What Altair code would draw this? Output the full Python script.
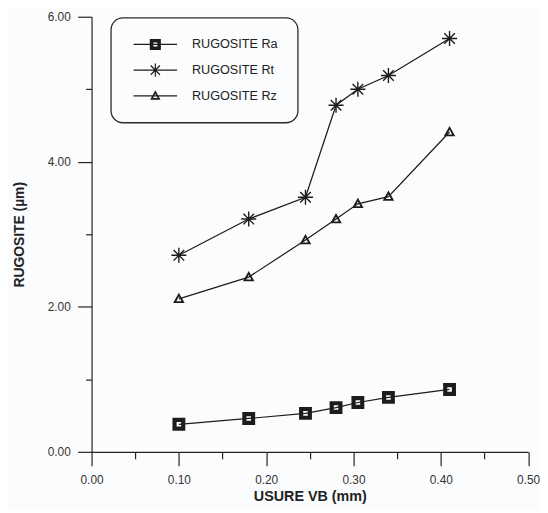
import math
import altair as alt
import pandas as pd

# ---------------- data ----------------
series_names = ["RUGOSITE Ra", "RUGOSITE Rt", "RUGOSITE Rz"]
series_keys = ["Ra", "Rt", "Rz"]
usure_vb = [0.10, 0.18, 0.245, 0.28, 0.305, 0.34, 0.41]
rugosite_ra = [0.38, 0.46, 0.53, 0.61, 0.68, 0.75, 0.86]
rugosite_rt = [2.71, 3.21, 3.51, 4.78, 5.00, 5.19, 5.70]
rugosite_rz = [2.11, 2.41, 2.92, 3.21, 3.42, 3.52, 4.41]
x_tick_values = [0.0, 0.05, 0.10, 0.15, 0.20, 0.25, 0.30, 0.35, 0.40, 0.45, 0.50]
y_tick_values = [0, 1, 2, 3, 4, 5, 6]

rows = []
for name, key, vals in zip(series_names, series_keys, [rugosite_ra, rugosite_rt, rugosite_rz]):
    for xv, yv in zip(usure_vb, vals):
        rows.append({"series": name, "key": key, "vb": xv, "r": yv})
df = pd.DataFrame(rows)

# ---------------- marker geometry (custom SVG symbols) ----------------
def num(v):
    s = f"{v:.3f}".rstrip("0").rstrip(".")
    return "0" if s in ("-0", "", "-") else s

def poly(pts, u):
    return "M" + "L".join(f"{num(x / u)},{num(y / u)}" for x, y in pts) + "Z"

def rect(half_len, width, theta):
    c, s = math.cos(theta), math.sin(theta)
    nx, ny = -s, c
    h = width / 2
    return [(-half_len * c - h * nx, -half_len * s - h * ny),
            (half_len * c - h * nx, half_len * s - h * ny),
            (half_len * c + h * nx, half_len * s + h * ny),
            (-half_len * c + h * nx, -half_len * s + h * ny)]

def square(outer, inner, u):
    o = [(-outer, -outer), (outer, -outer), (outer, outer), (-outer, outer)]
    i = [(-inner, -inner), (-inner, inner), (inner, inner), (inner, -inner)]
    return poly(o, u) + poly(i, u)

def asterisk(arm, width, u):
    return "".join(poly(rect(arm, width, k * math.pi / 4), u) for k in range(4))

def triangle(hw, top, bottom, t, u):
    A, B, C = (0.0, -top), (hw, bottom), (-hw, bottom)
    def d(p, q):
        return math.hypot(p[0] - q[0], p[1] - q[1])
    a, b, c = d(B, C), d(A, C), d(A, B)
    p = a + b + c
    ix = (a * A[0] + b * B[0] + c * C[0]) / p
    iy = (a * A[1] + b * B[1] + c * C[1]) / p
    area = 0.5 * abs((B[0] - A[0]) * (C[1] - A[1]) - (C[0] - A[0]) * (B[1] - A[1]))
    r = area / (p / 2)
    k = (r - t) / r
    inner = [(ix + (V[0] - ix) * k, iy + (V[1] - iy) * k) for V in (A, C, B)]
    return poly([A, B, C], u) + poly(inner, u)

U_PT = 8.0   # point size 256 -> 8 px per unit
U_LG = 7.0   # legend symbol size 196 -> 7 px per unit

pt_paths = [
    square(6.5, 2.3, U_PT),
    asterisk(7.6, 1.4, U_PT),
    triangle(5.8, 6.2, 4.3, 1.9, U_PT),
]
legend_line = poly(rect(22, 1.2, 0), U_LG)
lg_paths = [
    legend_line + square(5.6, 2.0, U_LG),
    legend_line + asterisk(6.6, 1.2, U_LG),
    legend_line + triangle(5.2, 5.6, 3.9, 1.7, U_LG),
]
legend_expr = (
    f"datum.value === '{series_names[0]}' ? '{lg_paths[0]}' : "
    f"datum.value === '{series_names[1]}' ? '{lg_paths[1]}' : '{lg_paths[2]}'"
)

FONT = "Liberation Sans"
INK = "#1c1c1c"

x_enc = alt.X(
    "vb:Q",
    scale=alt.Scale(domain=[0, 0.5], nice=False, zero=False),
    axis=alt.Axis(
        values=x_tick_values,
        title="USURE VB (mm)",
        labelExpr="abs(datum.value*10 - round(datum.value*10)) < 0.01 ? format(datum.value, '.2f') : ''",
        tickSize={"condition": {"test": "abs(datum.value*10 - round(datum.value*10)) < 0.01", "value": 14}, "value": 7},
        grid=False,
        labelOverlap=False,
        labelFlush=False,
        labelPadding=9,
        labelFont=FONT,
        labelFontSize=12,
        labelColor="#333333",
        titleFont=FONT,
        titleFontSize=14.5,
        titleFontWeight="bold",
        titleColor="#222222",
        titlePadding=4,
    ),
)
y_enc = alt.Y(
    "r:Q",
    scale=alt.Scale(domain=[0, 6], nice=False, zero=False),
    axis=alt.Axis(
        values=y_tick_values,
        title="RUGOSITE (µm)",
        labelExpr="datum.value % 2 == 0 ? format(datum.value, '.2f') : ''",
        tickSize={"condition": {"test": "datum.value % 2 == 0", "value": 14}, "value": 6},
        grid=False,
        labelOverlap=False,
        labelFlush=False,
        labelPadding=7.5,
        labelFont=FONT,
        labelFontSize=12,
        labelColor="#333333",
        titleFont=FONT,
        titleFontSize=14,
        titleFontWeight="bold",
        titleColor="#222222",
        titlePadding=21,
    ),
)

lines = alt.Chart(df).mark_line(stroke=INK, strokeWidth=1.25).encode(
    x=x_enc, y=y_enc, detail="series:N"
)

points = alt.Chart(df).mark_point(filled=True, strokeWidth=0, opacity=1, size=256).encode(
    x=x_enc,
    y=y_enc,
    shape=alt.Shape("key:N", scale=alt.Scale(domain=series_keys, range=pt_paths), legend=None),
    color=alt.Color(
        "series:N",
        scale=alt.Scale(domain=series_names, range=[INK, INK, INK]),
        legend=alt.Legend(
            title=None,
            orient="none",
            legendX=19.5,
            legendY=1,
            direction="vertical",
            symbolType={"expr": legend_expr},
            symbolSize=196,
            symbolStrokeWidth=0,
            symbolOffset=18,
            labelOffset=30,
            labelFont=FONT,
            labelFontSize=12.8,
            labelColor="#222222",
            rowPadding=12,
            padding=20,
            cornerRadius=12,
            strokeColor="#2a2a2a",
        ),
    ),
)

chart = (
    alt.layer(lines, points)
    .properties(
        width=441.5,
        height=440,
        autosize=alt.AutoSizeParams(type="none"),
        padding={"left": 84.5, "top": 6, "right": 12, "bottom": 56},
        background="#fbfcfe",
    )
    .configure_view(stroke=None)
    .configure_axis(domainColor="#222222", tickColor="#222222", domainWidth=1.2, tickWidth=1.2)
    .configure_legend(strokeWidth=1.3)
)

chart.save("out.html", embed_options={"renderer": "svg", "actions": False})
